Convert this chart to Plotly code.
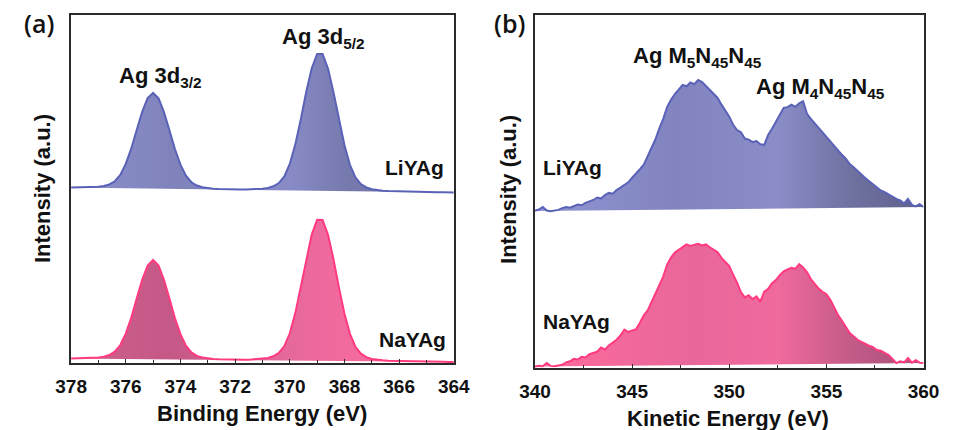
import plotly.graph_objects as go

# ---------------- data ----------------
# Panel (a): Ag 3d XPS, binding energy grid (eV)
be_energy = [378.0, 377.8, 377.6, 377.4, 377.2, 377.0, 376.8, 376.6, 376.4, 376.2,
             376.0, 375.8, 375.6, 375.4, 375.2, 375.0, 374.8, 374.6, 374.4, 374.2,
             374.0, 373.8, 373.6, 373.4, 373.2, 373.0, 372.8, 372.6, 372.4, 372.2,
             372.0, 371.8, 371.6, 371.4, 371.2, 371.0, 370.8, 370.6, 370.4, 370.2,
             370.0, 369.8, 369.6, 369.4, 369.2, 369.0, 368.8, 368.6, 368.4, 368.2,
             368.0, 367.8, 367.6, 367.4, 367.2, 367.0, 366.8, 366.6, 366.4, 366.2,
             366.0, 365.8, 365.6, 365.4, 365.2, 365.0, 364.8, 364.6, 364.4, 364.2,
             364.0]
xps_liyag = [50.40, 50.44, 50.44, 50.48, 50.54, 50.63, 50.86, 51.31, 52.22, 54.07,
             57.21, 61.59, 66.94, 72.14, 76.11, 77.60, 76.07, 72.06, 66.82, 61.43,
             57.01, 53.83, 51.94, 50.99, 50.50, 50.23, 50.10, 50.00, 49.92, 49.92,
             49.87, 49.86, 49.88, 49.90, 49.98, 50.10, 50.32, 50.78, 51.71, 53.61,
             57.18, 62.75, 69.91, 77.87, 84.63, 88.80, 88.78, 84.57, 77.77, 69.77,
             62.57, 56.96, 53.35, 51.41, 50.44, 49.94, 49.68, 49.52, 49.40, 49.34,
             49.28, 49.22, 49.18, 49.15, 49.12, 49.10, 49.08, 49.06, 49.04, 49.02,
             49.00]
xps_nayag = [1.30, 1.35, 1.36, 1.40, 1.47, 1.57, 1.81, 2.28, 3.24, 5.16,
             8.43, 12.97, 18.52, 23.91, 28.03, 29.59, 28.00, 23.86, 18.43, 12.86,
             8.28, 4.99, 3.04, 2.05, 1.56, 1.28, 1.16, 1.05, 0.99, 0.99,
             0.94, 0.94, 0.96, 0.99, 1.08, 1.21, 1.45, 1.92, 2.90, 4.85,
             8.54, 14.27, 21.66, 29.87, 36.84, 41.14, 41.12, 36.80, 29.79, 21.56,
             14.15, 8.38, 4.67, 2.68, 1.68, 1.17, 0.91, 0.76, 0.63, 0.58,
             0.52, 0.47, 0.43, 0.40, 0.39, 0.37, 0.36, 0.34, 0.33, 0.31,
             0.30]

# Panel (b): Ag MNN Auger, kinetic energy grid (eV)
ke_energy = [340.0, 340.2, 340.4, 340.6, 340.8, 341.0, 341.2, 341.4, 341.6, 341.8,
             342.0, 342.2, 342.4, 342.6, 342.8, 343.0, 343.2, 343.4, 343.6, 343.8,
             344.0, 344.2, 344.4, 344.6, 344.8, 345.0, 345.2, 345.4, 345.6, 345.8,
             346.0, 346.2, 346.4, 346.6, 346.8, 347.0, 347.2, 347.4, 347.6, 347.8,
             348.0, 348.2, 348.4, 348.6, 348.8, 349.0, 349.2, 349.4, 349.6, 349.8,
             350.0, 350.2, 350.4, 350.6, 350.8, 351.0, 351.2, 351.4, 351.6, 351.8,
             352.0, 352.2, 352.4, 352.6, 352.8, 353.0, 353.2, 353.4, 353.6, 353.8,
             354.0, 354.2, 354.4, 354.6, 354.8, 355.0, 355.2, 355.4, 355.6, 355.8,
             356.0, 356.2, 356.4, 356.6, 356.8, 357.0, 357.2, 357.4, 357.6, 357.8,
             358.0, 358.2, 358.4, 358.6, 358.8, 359.0, 359.2, 359.4, 359.6, 359.8,
             360.0]
aes_liyag = [44.5, 44.9, 45.6, 44.6, 44.4, 44.6, 44.8, 45.3, 45.6, 45.4,
             45.9, 46.3, 46.1, 46.8, 47.2, 47.6, 48.3, 48.0, 49.0, 49.6,
             49.4, 50.4, 51.1, 51.8, 52.6, 53.9, 55.0, 56.3, 57.6, 60.0,
             62.6, 64.8, 67.9, 70.6, 73.9, 76.0, 77.6, 79.0, 80.2, 79.8,
             80.9, 80.4, 81.6, 81.0, 79.8, 78.9, 77.6, 76.5, 74.6, 72.8,
             71.2, 68.9, 67.4, 66.8, 65.0, 64.7, 64.0, 64.3, 63.4, 63.2,
             66.0, 67.8, 69.9, 71.6, 73.7, 73.9, 74.6, 74.0, 75.0, 75.6,
             72.0, 70.6, 69.3, 68.3, 67.0, 65.4, 64.2, 62.8, 61.5, 60.4,
             59.3, 57.8, 56.9, 55.8, 54.9, 53.8, 52.9, 52.0, 51.1, 50.3,
             49.8, 49.2, 48.4, 47.9, 47.5, 46.6, 47.9, 46.2, 45.8, 46.4,
             45.6]
aes_nayag = [0.4, 0.6, 0.5, 1.4, 0.6, 0.5, 0.7, 0.9, 1.6, 1.9,
             2.6, 2.4, 3.2, 3.0, 3.9, 4.3, 4.6, 5.8, 5.2, 6.4,
             7.3, 8.0, 9.2, 10.9, 10.2, 10.6, 11.0, 12.8, 14.9, 16.3,
             18.6, 21.0, 23.2, 25.9, 29.3, 31.3, 32.7, 33.4, 34.1, 35.0,
             34.6, 35.0, 35.2, 34.7, 35.0, 34.2, 33.6, 32.8, 31.2, 30.1,
             28.9, 26.4, 24.2, 21.5, 20.0, 20.6, 19.5, 20.3, 18.8, 21.6,
             22.4, 24.0, 24.9, 26.3, 27.4, 27.9, 28.4, 28.1, 29.4, 28.5,
             27.2, 25.2, 23.9, 22.5, 21.6, 20.9, 19.3, 17.0, 15.0, 13.4,
             11.6, 9.9, 9.0, 8.0, 7.4, 6.8, 6.3, 5.9, 5.1, 4.9,
             4.2, 3.7, 2.6, 1.4, 1.9, 1.6, 2.8, 1.5, 2.2, 1.5,
             1.4]

be_ticks = [378, 376, 374, 372, 370, 368, 366, 364]
ke_ticks = [340, 345, 350, 355, 360]

# ---------------- styling ----------------
W, H = 955, 430
FONT = "Liberation Sans, Arial, sans-serif"
LI_LINE = "#5a62b8"
NA_LINE = "#ff3a80"
FRAME = "#2b2b2b"


def px(x):
    return x / W


def py(y):
    return 1 - y / H


fig = go.Figure()

fig.add_trace(go.Scatter(
    x=be_energy, y=xps_liyag, xaxis="x", yaxis="y", mode="lines", fill="toself",
    line=dict(color=LI_LINE, width=2),
    fillgradient=dict(type="horizontal", start=378, stop=364,
                      colorscale=[[0, "#8c90cc"], [0.25, "#8083bb"], [0.55, "#888bc6"],
                                  [0.7, "#7679ac"], [1, "#6c6e9c"]]),
    showlegend=False, hoverinfo="skip"))
fig.add_trace(go.Scatter(
    x=be_energy, y=xps_nayag, xaxis="x", yaxis="y", mode="lines", fill="toself",
    line=dict(color=NA_LINE, width=2),
    fillgradient=dict(type="horizontal", start=378, stop=364,
                      colorscale=[[0, "#d0608e"], [0.25, "#c45886"], [0.5, "#e0689a"],
                                  [0.65, "#f06a9e"], [1, "#ff6aa0"]]),
    showlegend=False, hoverinfo="skip"))
fig.add_trace(go.Scatter(
    x=ke_energy, y=aes_liyag, xaxis="x2", yaxis="y2", mode="lines", fill="toself",
    line=dict(color=LI_LINE, width=2),
    fillgradient=dict(type="horizontal", start=340, stop=360,
                      colorscale=[[0, "#9195d2"], [0.35, "#8184bf"], [0.6, "#8a8dc8"],
                                  [0.8, "#6d6f9e"], [1, "#5d5e88"]]),
    showlegend=False, hoverinfo="skip"))
fig.add_trace(go.Scatter(
    x=ke_energy, y=aes_nayag, xaxis="x2", yaxis="y2", mode="lines", fill="toself",
    line=dict(color=NA_LINE, width=2),
    fillgradient=dict(type="horizontal", start=340, stop=360,
                      colorscale=[[0, "#ff6a9e"], [0.4, "#e8679a"], [0.6, "#f06a9e"],
                                  [0.8, "#c05a86"], [1, "#a05075"]]),
    showlegend=False, hoverinfo="skip"))

axis_common = dict(
    showline=True, linecolor=FRAME, linewidth=2, mirror=True,
    showgrid=False, zeroline=False,
    ticks="inside", ticklen=4, tickwidth=1.3, tickcolor=FRAME,
    tickfont=dict(family=FONT, size=19, color="#111111", weight="bold"),
    ticklabelstandoff=5,
)
yaxis_common = dict(
    showline=True, linecolor=FRAME, linewidth=2, mirror=True,
    showgrid=False, zeroline=False, showticklabels=False, ticks="",
    range=[0, 100],
)

fig.update_layout(
    width=W, height=H,
    margin=dict(l=0, r=0, t=0, b=0),
    paper_bgcolor="white", plot_bgcolor="white",
    xaxis=dict(domain=[px(57), px(453)], range=[378, 364], anchor="y",
               tickmode="array", tickvals=be_ticks,
               minor=dict(dtick=1, ticks="inside", ticklen=3, tickcolor=FRAME),
               **axis_common),
    yaxis=dict(domain=[py(363), py(15)], anchor="x", **yaxis_common),
    xaxis2=dict(domain=[px(537), px(939)], range=[340, 360], anchor="y2",
                tickmode="array", tickvals=ke_ticks,
                minor=dict(dtick=2.5, ticks="inside", ticklen=3, tickcolor=FRAME),
                **axis_common),
    yaxis2=dict(domain=[py(368), py(15)], anchor="x2", **yaxis_common),
)


def label(text, x, y, size, angle=0, weight="bold", family=FONT):
    fig.add_annotation(text=text, x=px(x), y=py(y), xref="paper", yref="paper",
                       xanchor="center", yanchor="middle", showarrow=False,
                       textangle=angle,
                       font=dict(family=family, size=size, color="#111111", weight=weight))


label("(a)", 24, 23, 25, weight=600, family="Open Sans, sans-serif")
label("(b)", 511, 23, 25, weight=600, family="Open Sans, sans-serif")
label("Ag 3d<sub>3/2</sub>", 150, 77, 22)
label("Ag 3d<sub>5/2</sub>", 318, 38, 22)
label("LiYAg", 412, 168, 21)
label("NaYAg", 410, 339, 21)
label("Ag M<sub>5</sub>N<sub>45</sub>N<sub>45</sub>", 705, 57, 22)
label("Ag M<sub>4</sub>N<sub>45</sub>N<sub>45</sub>", 832, 88, 22)
label("LiYAg", 576, 168, 21)
label("NaYAg", 580, 321, 21)
label("Binding Energy (eV)", 255, 413, 22)
label("Kinetic Energy (eV)", 737, 418, 22)
label("Intensity (a.u.)", 27, 189, 22, angle=-90)
label("Intensity (a.u.)", 509, 189, 22, angle=-90)

fig.write_html("out.html")
